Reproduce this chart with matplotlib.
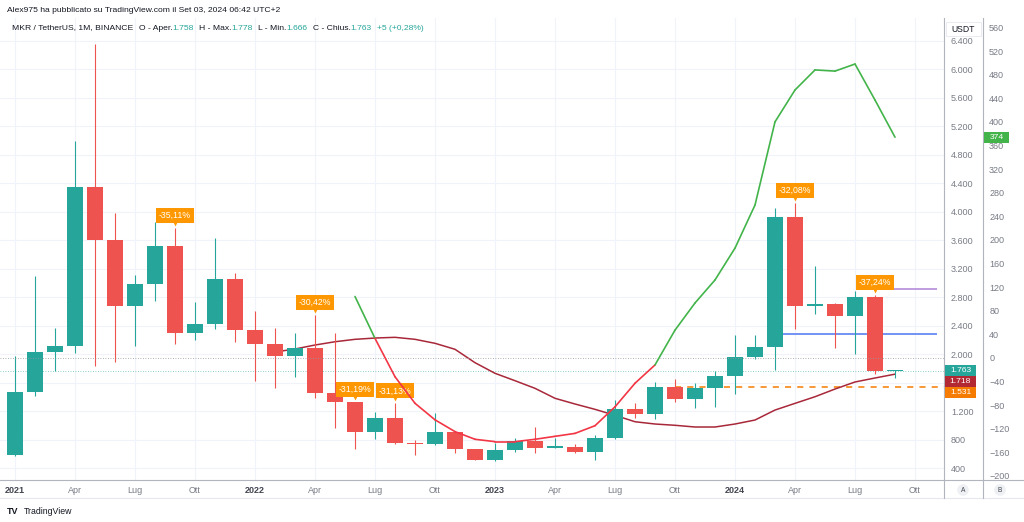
import matplotlib.pyplot as plt
import matplotlib.transforms as mtransforms
from matplotlib.lines import Line2D
from matplotlib.patches import Rectangle
import numpy as np

plt.rcParams['font.family'] = ['Liberation Sans', 'DejaVu Sans']

# MKR / USDT monthly candles, Jan 2021 .. Sep 2024
opens = [583, 1471, 2033, 2113, 4350, 3601, 2675, 2979, 3521, 2291, 2422, 3054,
         2338, 2141, 1973, 2081, 1457, 1323, 910, 1102, 755, 733, 901, 667,
         512, 653, 783, 685, 695, 629, 826, 1224, 1154, 1533, 1365, 1528,
         1696, 1963, 2095, 3920, 2675, 2703, 2538, 2805, 1758]
highs = [1973, 3096, 2366, 4991, 6353, 3985, 3110, 3858, 3766, 2731, 3625, 3142,
         2604, 2362, 2291, 2548, 2300, 1330, 1182, 1308, 793, 1168, 910, 670,
         747, 817, 980, 817, 733, 863, 1355, 1308, 1608, 1654, 1589, 1762,
         2267, 2267, 4046, 4117, 3236, 2721, 2880, 2830, 1778]
lows = [575, 1415, 1766, 2019, 1832, 1893, 2113, 2749, 2141, 2197, 2352, 2169,
        1626, 1519, 1682, 1379, 957, 663, 803, 737, 583, 720, 615, 510,
        505, 629, 607, 677, 615, 512, 803, 1100, 1084, 1331, 1238, 1252,
        1439, 1926, 1776, 2348, 2562, 2081, 1997, 1720, 1666]
closes = [1471, 2033, 2113, 4350, 3601, 2675, 2979, 3521, 2291, 2422, 3054, 2338,
          2141, 1973, 2081, 1457, 1323, 910, 1102, 755, 733, 901, 667, 512,
          653, 783, 685, 695, 629, 826, 1224, 1154, 1533, 1365, 1528, 1696,
          1963, 2095, 3920, 2675, 2703, 2538, 2805, 1758, 1763]

# moving average on the price scale (from Feb 2022)
ma = [np.nan] * 13 + [2029, 2071, 2127, 2173, 2207, 2225, 2235, 2207, 2151, 2067,
                      1879, 1730, 1626, 1519, 1379, 1299, 1224, 1140, 1050, 1018,
                      1000, 976, 976, 1018, 1074, 1214, 1308, 1401, 1509, 1608,
                      1664, 1718]

# oscillator on the second scale (from Jun 2022)
osc = [np.nan] * 17 + [104, 33, -32, -77, -105, -125, -138, -142, -142, -138,
                       -133, -128, -115, -83, -43, -12, 47, 93, 132, 186,
                       259, 400, 454, 488, 486, 498, 437, 374]

# big monthly drops marked on the chart
drop_months = [8, 15, 17, 19, 39, 43]
drop_labels = ['-35,11%', '-30,42%', '-31,19%', '-31,13%', '-32,08%', '-37,24%']

# horizontal levels
blue_level, blue_from = 2281, 38
purple_level, purple_from = 2913, 43
orange_level, orange_from = 1531, 33

tick_months = list(range(0, 46, 3))
tick_names = ['2021', 'Apr', 'Lug', 'Ott', '2022', 'Apr', 'Lug', 'Ott',
              '2023', 'Apr', 'Lug', 'Ott', '2024', 'Apr', 'Lug', 'Ott']
price_ticks = list(range(400, 6401, 400))
hidden_price_ticks = [1600]  # covered by the value tags in the original
osc_ticks = list(range(-200, 561, 40))

UP, DOWN = '#26a69a', '#ef5350'
W, H = 1024, 522

fig = plt.figure(figsize=(W / 100, H / 100), dpi=100)
ax = fig.add_axes([0, (H - 480) / H, 944 / W, (480 - 18) / H])
ax2 = ax.twinx()
for a in (ax, ax2):
    for s in a.spines.values():
        s.set_visible(False)

ax.set_xlim(-0.75, 46.45)
ax.set_ylim(232, 6718)
ax2.set_ylim(-207, 576)

# grid + ticks
ax.set_xticks(tick_months)
ax.set_xticklabels(tick_names)
ax.set_yticks(price_ticks)
ax.set_yticklabels(['' if v in hidden_price_ticks else f'{v:,}'.replace(',', '.')
                    for v in price_ticks])
ax.yaxis.tick_right()
ax.grid(color='#f0f3fa', lw=0.8, zorder=0)
ax.set_axisbelow(True)
ax.tick_params(axis='x', length=0, pad=4, labelsize=6.5, labelcolor='#787b86')
ax.tick_params(axis='y', length=0, pad=5, labelsize=6.5, labelcolor='#787b86')
for lab in ax.get_xticklabels():
    if lab.get_text().isdigit():
        lab.set_fontweight('bold')
        lab.set_color('#434651')
ax2.set_yticks(osc_ticks)
ax2.set_yticklabels([str(v).replace('-', '\u2212') for v in osc_ticks])
ax2.tick_params(axis='y', length=0, pad=32.5, labelsize=6.5, labelcolor='#787b86')

# dotted reference lines
ax2.axhline(0, color='#9598a1', ls=(0, (1, 2)), lw=0.6, zorder=1)
ax.axhline(closes[-1], color=UP, ls=(0, (1, 2)), lw=0.6, alpha=0.7, zorder=1)

# levels
ax.hlines(blue_level, blue_from, 46.1, color='#5b7ff0', lw=1.2, zorder=2)
ax.hlines(purple_level, purple_from, 46.1, color='#b48bd9', lw=1.2, zorder=2)
ax.hlines(orange_level, orange_from, 46.45, color='#f57c00', lw=1.1,
          ls=(0, (4, 4)), zorder=2)

# moving average
x = np.arange(len(closes))
ax.plot(x, ma, color='#a8283a', lw=1.1, zorder=2)

# candles
o, h, l, c = map(np.array, (opens, highs, lows, closes))
cols = np.where(c >= o, UP, DOWN)
ax.vlines(x, l, h, colors=cols, lw=0.8, zorder=3)
ax.bar(x, np.maximum(np.abs(c - o), 18), width=0.76, bottom=np.minimum(o, c),
       color=cols, linewidth=0, zorder=4)

# oscillator, coloured by sign
osc_arr = np.array(osc)
for i in range(len(osc_arr) - 1):
    if np.isnan(osc_arr[i]) or np.isnan(osc_arr[i + 1]):
        continue
    col = '#43b44a' if osc_arr[i + 1] >= 0 else '#f23645'
    ax2.plot([i, i + 1], [osc_arr[i], osc_arr[i + 1]], color=col, lw=1.2,
             solid_capstyle='round', zorder=5)

# drop labels
tip = mtransforms.offset_copy(ax.transData, fig=fig, x=0, y=3.5, units='points')
for m, txt in zip(drop_months, drop_labels):
    ax.plot(m, highs[m], marker='v', ms=5, color='#ff9800', mec='none',
            transform=tip, zorder=6)
    ax.annotate(txt, (m, highs[m]), xytext=(0, 9), textcoords='offset points',
                ha='center', va='center', fontsize=6.3, color='white', zorder=7,
                bbox=dict(boxstyle='square,pad=0.35', fc='#ff9800', ec='none'))


# value tags on the scales (pixel boxes, stacked so they don't overlap)
def tag(yc, text, fc, x0, w, hgt=11):
    fig.add_artist(Rectangle((x0 / W, 1 - (yc + hgt / 2) / H), w / W, hgt / H,
                             transform=fig.transFigure, fc=fc, ec='none', zorder=10))
    fig.text((x0 + w / 2) / W, 1 - yc / H, text, ha='center', va='center',
             fontsize=6.1, color='white', zorder=11)


def to_px(a, val):
    return H - a.transData.transform((0, val))[1]


prev = -100
for val, fc in [(closes[-1], UP), (ma[-1], '#b22833'), (orange_level, '#f57c00')]:
    yc = max(to_px(ax, val), prev + 11)
    tag(yc, f'{val:,.0f}'.replace(',', '.'), fc, 945, 31)
    prev = yc
tag(to_px(ax2, osc[-1]), f'{osc[-1]}', '#43b44a', 984, 25)


# panel borders
def hline(y, x0, x1, col):
    fig.add_artist(Line2D([x0 / W, x1 / W], [1 - y / H, 1 - y / H], color=col, lw=0.8))


def vline(xp, y0, y1, col):
    fig.add_artist(Line2D([xp / W, xp / W], [1 - y0 / H, 1 - y1 / H], color=col, lw=0.8))


hline(480, 0, W, '#b2b5be')
hline(498, 0, W, '#e6e8ee')
vline(944, 18, 498, '#b2b5be')
vline(983, 18, 498, '#b2b5be')

fig.add_artist(Rectangle((946 / W, 1 - 36 / H), 35 / W, 14 / H, transform=fig.transFigure,
                         fc='white', ec='#e0e3eb', lw=0.5, zorder=10))
fig.text(963.5 / W, 1 - 29 / H, 'USDT', ha='center', va='center', fontsize=6.2,
         color='#131722', zorder=11)
for lx, letter in [(963, 'A'), (1000, 'B')]:
    fig.text(lx / W, 1 - 490 / H, letter, ha='center', va='center', fontsize=4.8,
             color='#434651', bbox=dict(boxstyle='circle,pad=0.35', fc='#eef0f4', ec='none'))

# header
fig.text(7 / W, 1 - 10 / H, 'Alex975 ha pubblicato su TradingView.com il Set 03, 2024 06:42 UTC+2',
         fontsize=6.1, color='#131722', va='center')
parts = [('MKR / TetherUS, 1M, BINANCE', '#131722'), ('O - Aper.', '#131722'),
         ('1.758', UP), ('H - Max.', '#131722'), ('1.778', UP),
         ('L - Min.', '#131722'), ('1.666', UP), ('C - Chius.', '#131722'),
         ('1.763', UP), ('+5 (+0,28%)', UP)]
t = fig.text(12 / W, 1 - 28 / H, parts[0][0], fontsize=6.1, color=parts[0][1], va='center')
for k, (s, col) in enumerate(parts[1:], start=1):
    gap = 0 if parts[k - 1][0].endswith('.') else 3.8
    t = ax.annotate(s, xy=(1, 0.5), xycoords=t, xytext=(gap, 0), textcoords='offset points',
                    va='center', ha='left', fontsize=6.1, color=col, annotation_clip=False)

# logo
fig.text(7 / W, 1 - 511 / H, 'TV', fontsize=6.5, fontweight='bold', color='#131722', va='center')
fig.text(24 / W, 1 - 511 / H, 'TradingView', fontsize=6.3, color='#131722', va='center')

fig.savefig('out.png', dpi=100, facecolor='white')
